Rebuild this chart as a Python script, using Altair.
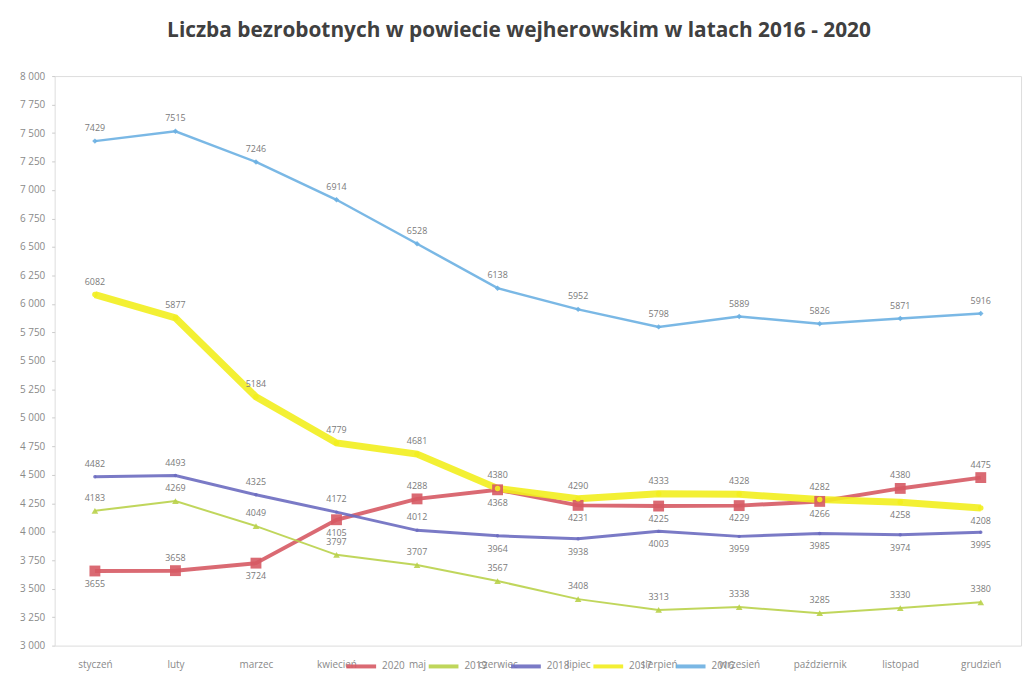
import altair as alt
import pandas as pd

months = ["styczeń", "luty", "marzec", "kwiecień", "maj", "czerwiec",
          "lipiec", "sierpień", "wrzesień", "październik", "listopad", "grudzień"]

years = ["2020", "2019", "2018", "2017", "2016"]

v2020 = [3655, 3658, 3724, 4105, 4288, 4368, 4231, 4225, 4229, 4266, 4380, 4475]
v2019 = [4183, 4269, 4049, 3797, 3707, 3567, 3408, 3313, 3338, 3285, 3330, 3380]
v2018 = [4482, 4493, 4325, 4172, 4012, 3964, 3938, 4003, 3959, 3985, 3974, 3995]
v2017 = [6082, 5877, 5184, 4779, 4681, 4380, 4290, 4333, 4328, 4282, 4258, 4208]
v2016 = [7429, 7515, 7246, 6914, 6528, 6138, 5952, 5798, 5889, 5826, 5871, 5916]

y_ticks = list(range(3000, 8001, 250))

# label placement ("a" above, "b" below) per series
side2020 = ["b", "a", "b", "b", "a", "b", "b", "b", "b", "b", "a", "a"]
side2019 = ["a"] * 12
side2018 = ["a", "a", "a", "a", "a", "b", "b", "b", "b", "b", "b", "b"]
side2017 = ["a", "a", "a", "a", "a", "a", "a", "a", "a", "a", "b", "b"]
side2016 = ["a"] * 12

colors = {"2020": "#d65a64", "2019": "#b9d24a", "2018": "#6c6cc0",
          "2017": "#f2ee1e", "2016": "#6cb0e2"}
widths = {"2020": 4, "2019": 2, "2018": 3, "2017": 7, "2016": 2.5}
shapes = {"2020": "square", "2019": "triangle-up", "2018": "circle",
          "2017": "circle", "2016": "diamond"}
sizes = {"2020": 120, "2019": 45, "2018": 12, "2017": 30, "2016": 30}

series = {"2020": (v2020, side2020), "2019": (v2019, side2019),
          "2018": (v2018, side2018), "2017": (v2017, side2017),
          "2016": (v2016, side2016)}

rows = []
for y in years:
    vals, sides = series[y]
    for m, v, s in zip(months, vals, sides):
        rows.append({"month": m, "year": y, "value": v, "side": s})
df = pd.DataFrame(rows)

xenc = alt.X("month:N", sort=months, scale=alt.Scale(type="point", padding=0.5),
             axis=alt.Axis(title=None, domain=False, ticks=False, labelAngle=0,
                           labelFont="Open Sans", labelFontSize=10, labelColor="#8a8a8a",
                           labelPadding=14))
yenc = alt.Y("value:Q", scale=alt.Scale(domain=[3000, 8000], nice=False, zero=False),
             axis=alt.Axis(title=None, values=y_ticks, grid=False, domain=False,
                           ticks=True, tickSize=3, tickColor="#cccccc",
                           labelFont="Open Sans", labelFontSize=10, labelColor="#8a8a8a",
                           labelPadding=7,
                           labelExpr="replace(format(datum.value, ','), ',', ' ')"))
color = alt.Color("year:N", scale=alt.Scale(domain=years, range=[colors[y] for y in years]),
                  legend=alt.Legend(title=None, orient="none", direction="horizontal",
                                    legendX=292, legendY=578, symbolType="stroke",
                                    symbolStrokeWidth=4, symbolSize=900,
                                    labelFont="Open Sans", labelFontSize=10,
                                    labelColor="#8a8a8a", columnPadding=16))

base = alt.Chart(df)
layers = []
for y in years:
    sub = base.transform_filter(alt.datum.year == y)
    layers.append(sub.mark_line(opacity=0.9, strokeWidth=widths[y]).encode(
        x=xenc, y=yenc, color=color))
for y in years:
    sub = base.transform_filter(alt.datum.year == y)
    layers.append(sub.mark_point(filled=True, opacity=0.9, shape=shapes[y],
                                 size=sizes[y], color=colors[y]).encode(x=xenc, y=yenc))

for s, d in (("a", -13), ("b", 13)):
    layers.append(base.transform_filter(alt.datum.side == s).mark_text(
        font="Open Sans", fontSize=9, color="#7a7a7a", dy=d).encode(
        x=xenc, y=yenc, text=alt.Text("value:Q", format="d")))

chart = alt.layer(*layers).properties(
    width=974, height=574,
    autosize=alt.AutoSizeParams(type="none"),
    padding={"left": 47, "top": 66, "right": 6, "bottom": 25},
    title=alt.TitleParams("Liczba bezrobotnych w powiecie wejherowskim w latach 2016 - 2020",
                          font="Open Sans", fontSize=21, fontWeight="bold", color="#404040",
                          anchor="middle", offset=30, dx=-19),
).configure_view(stroke=None).configure(background="white")

chart.save("out.html", embed_options={"renderer": "svg", "actions": False})
